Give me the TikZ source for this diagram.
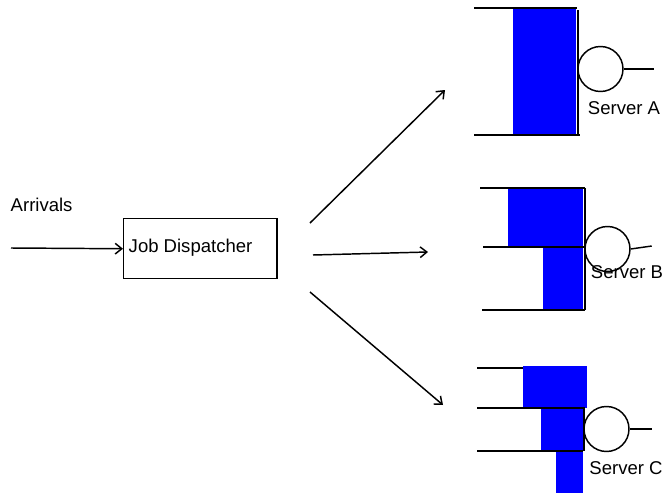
\documentclass[tikz,border=0pt]{standalone}
\usepackage{fontspec}
\setmainfont{Liberation Sans}
\usetikzlibrary{arrows.meta}
\begin{document}
\begin{tikzpicture}[x=0.75pt, y=-0.75pt, >={Straight Barb[length=5pt,width=8pt]},
  line width=1.1pt, font=\fontsize{13.9}{16}\selectfont,
  srv/.style={circle, draw, fill=white, minimum size=33.75pt, inner sep=0pt},
  job/.style={fill=blue, draw=none}]
  \useasboundingbox (0,0) rectangle (665,493);

  % --- 1. arrivals and dispatcher ---
  \node[anchor=base west, inner sep=0pt] (arr) at (10,211) {Arrivals};
  \node[draw, minimum width=115pt, minimum height=45pt, anchor=north west,
        inner sep=0pt] (disp) at (123,218) {};
  \node[anchor=west, inner sep=0pt] (disptxt) at (128,248) {Job Dispatcher};
  \coordinate (in) at (11,248);
  \draw[->] (in) -- (disp.west);

  % --- 2. fan-out arrows ---
  \coordinate (oA) at (310,223);  \coordinate (tA) at (445,90);
  \coordinate (oB) at (313,255);  \coordinate (tB) at (428,252);
  \coordinate (oC) at (310,292);  \coordinate (tC) at (443,405);
  \draw[->] (oA) -- (tA);
  \draw[->] (oB) -- (tB);
  \draw[->] (oC) -- (tC);

  % --- 3. server A: one queue ---
  \fill[job] (513,8) rectangle (576,135);
  \draw (474,8) -- (577,8);
  \draw (474,135) -- (580,135);
  \draw (578,10) -- (578,135);
  \node[srv] (srvA) at (600.5,69) {};
  \draw (srvA.east) -- ++(30,0);
  \node (labA) at (624,108) {Server A};

  % --- 4. server B: two queues ---
  \fill[job] (508,187) rectangle (583,248);
  \fill[job] (543,248) rectangle (583,310);
  \draw (480,188) -- (585,188);
  \draw (483,247) -- (585,247);
  \draw (482,310) -- (585,310);
  \draw (585,188) -- (585,310);
  \node[srv] (srvB) at (607.5,249) {};
  \draw (srvB.east) -- ++(21,-3);
  \node (labB) at (627,272) {Server B};

  % --- 5. server C: three queues ---
  \fill[job] (523,366) rectangle (587,408);
  \fill[job] (541,408) rectangle (583,451);
  \fill[job] (556,451) rectangle (583,493);
  \draw (477,368) -- (523,368);
  \draw (477,408) -- (585,408);
  \draw (477,451) -- (583,451);
  \draw (584,408) -- (584,451);
  \node[srv] (srvC) at (606.5,429) {};
  \draw (srvC.east) -- ++(22,0);
  \node (labC) at (626,468) {Server C};

\end{tikzpicture}
\end{document}
